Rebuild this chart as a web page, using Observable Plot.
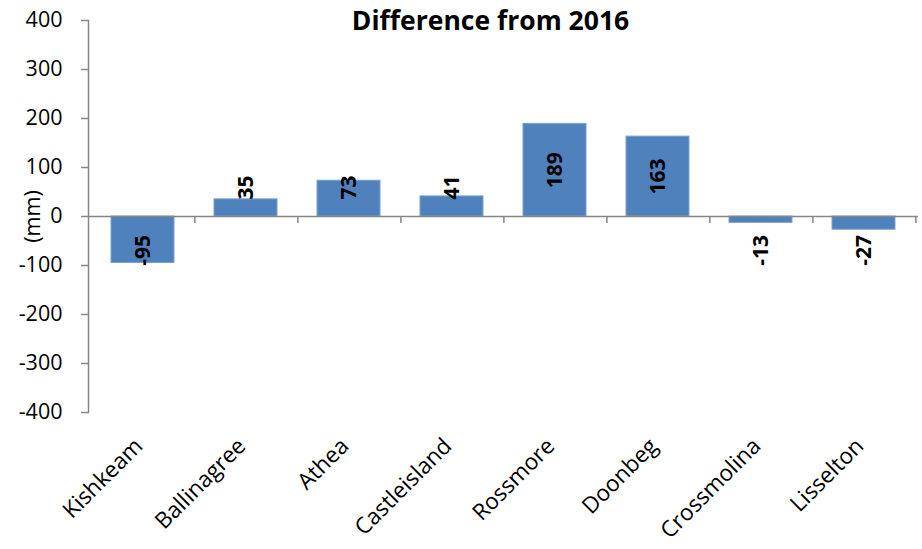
<!DOCTYPE html>
<html>
<head>
<meta charset="utf-8">
<script src="https://cdn.jsdelivr.net/npm/d3@7"></script>
<script src="https://cdn.jsdelivr.net/npm/@observablehq/plot@0.6"></script>
<style>
  html, body { margin: 0; padding: 0; background: #fff; }
  svg { display: block; }
</style>
</head>
<body>
<div id="chart"></div>
<script>
const categories = ["Kishkeam", "Ballinagree", "Athea", "Castleisland", "Rossmore", "Doonbeg", "Crossmolina", "Lisselton"];
const values = [-95, 35, 73, 41, 189, 163, -13, -27];
const yTicks = [-400, -300, -200, -100, 0, 100, 200, 300, 400];
const title = "Difference from 2016";
const yLabel = "(mm)";

const data = categories.map((c, i) => ({category: c, value: values[i]}));

const W = 922, H = 549;
const mL = 88, mR = 4, mT = 20, mB = 137;
const step = (W - mL - mR) / categories.length;
const FONT = "'Open Sans', Lato, sans-serif";
const gray = "#868686";

const chart = Plot.plot({
  width: W,
  height: H,
  marginLeft: mL,
  marginRight: mR,
  marginTop: mT,
  marginBottom: mB,
  style: {fontFamily: FONT, fontSize: "21px", color: "#000", background: "#fff"},
  x: {domain: categories, paddingInner: 0.39, paddingOuter: 0.195, axis: null},
  y: {domain: [-400, 400], axis: null},
  marks: [
    Plot.barY(data, {x: "category", y: "value", fill: "#4F81BD", stroke: "#7F9FCF", strokeWidth: 1}),
    Plot.ruleY([0], {stroke: gray, strokeWidth: 1.5}),
    Plot.ruleX(categories, {x: d => d, y1: 0, y2: 0, dx: step / 2, insetBottom: -7, stroke: gray, strokeWidth: 1.5}),
    Plot.frame({anchor: "left", stroke: gray, strokeWidth: 1.5}),
    Plot.axisY({ticks: yTicks, tickSize: 7, tickPadding: 19, tickFormat: d => String(d), fontSize: 21.5, label: null, stroke: gray, strokeWidth: 1.5, color: "#000"}),
    Plot.text([yLabel], {text: d => d, frameAnchor: "left", textAnchor: "middle", rotate: -90, dx: -55, fontSize: 21.5, fill: "#000"}),
    Plot.text(data, {
      x: "category",
      y: d => d.value > 0 ? Math.max(d.value / 2, 59) : Math.min(d.value / 2, -69),
      text: d => String(d.value),
      rotate: -90,
      fontSize: 21,
      fontWeight: "bold",
      fill: "#000"
    }),
    Plot.text(categories, {x: d => d, text: d => d, frameAnchor: "bottom", rotate: -45, textAnchor: "end", dy: 35, dx: 1, fontSize: 22.5, fill: "#000"}),
    Plot.text([title], {text: d => d, frameAnchor: "top", dx: -13, dy: -9, fontSize: 26.5, fontWeight: "bold", fill: "#000"})
  ]
});
document.getElementById("chart").appendChild(chart);
</script>
</body>
</html>
